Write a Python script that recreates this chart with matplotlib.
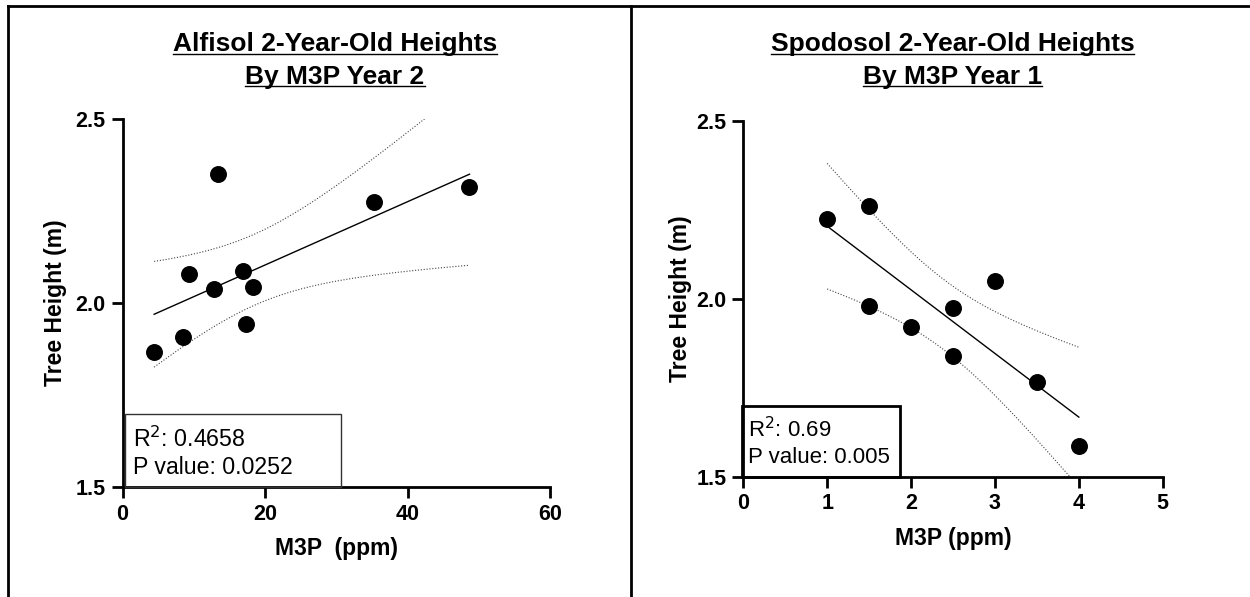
import numpy as np
import matplotlib

matplotlib.use("Agg")
import matplotlib.pyplot as plt
from matplotlib.lines import Line2D

plt.rcParams["font.family"] = ["Liberation Sans", "DejaVu Sans"]

# Alfisol, M3P year 2
alf_m3p = [13.4, 35.3, 48.7, 9.4, 16.9, 12.9, 18.3, 4.44, 8.46, 17.4]
alf_height = [2.350, 2.275, 2.314, 2.078, 2.088, 2.037, 2.044, 1.868, 1.908, 1.942]
alf_title = ["Alfisol 2-Year-Old Heights", "By M3P Year 2"]
alf_xlabel = "M3P  (ppm)"
alf_xticks = [0, 20, 40, 60]
alf_stats = ["0.4658", "0.0252"]

# Spodosol, M3P year 1
spo_m3p = [1.0, 1.5, 1.5, 2.0, 2.5, 2.5, 3.0, 3.5, 4.0]
spo_height = [2.223, 2.261, 1.980, 1.921, 1.975, 1.838, 2.049, 1.765, 1.587]
spo_title = ["Spodosol 2-Year-Old Heights", "By M3P Year 1"]
spo_xlabel = "M3P (ppm)"
spo_xticks = [0, 1, 2, 3, 4, 5]
spo_stats = ["0.69", "0.005"]

yticks = [1.5, 2.0, 2.5]
T95 = {8: 2.306, 7: 2.365}


def fit_band(x, y):
    x = np.asarray(x, float)
    y = np.asarray(y, float)
    n = len(x)
    b, a = np.polyfit(x, y, 1)
    resid = y - (a + b * x)
    s = np.sqrt((resid ** 2).sum() / (n - 2))
    sxx = ((x - x.mean()) ** 2).sum()
    xs = np.linspace(x.min(), x.max(), 200)
    yhat = a + b * xs
    half = T95[n - 2] * s * np.sqrt(1 / n + (xs - x.mean()) ** 2 / sxx)
    return xs, yhat, yhat - half, yhat + half


def panel(ax, x, y, xlabel, xticks, stats, box, ylpad):
    xs, yhat, lo, hi = fit_band(x, y)
    ax.plot(xs, yhat, color="black", lw=1.0)
    for band in (lo, hi):
        ax.plot(xs, band, color="#444444", lw=0.8, ls=(0, (1, 1.6)))
    ax.scatter(x, y, s=125, color="black", zorder=3, clip_on=False)

    ax.set_xlim(xticks[0], xticks[-1])
    ax.set_ylim(1.5, 2.5)
    ax.set_xticks(xticks)
    ax.set_yticks(yticks)
    ax.set_yticklabels([f"{v:.1f}" for v in yticks])
    for s in ("top", "right"):
        ax.spines[s].set_visible(False)
    for s in ("left", "bottom"):
        ax.spines[s].set_linewidth(2)
    ax.tick_params(width=2, length=8, labelsize=15.5, pad=4)
    for lab in ax.get_xticklabels() + ax.get_yticklabels():
        lab.set_fontweight("bold")
    ax.set_xlabel(xlabel, fontsize=16.5, fontweight="bold", labelpad=9)
    ax.set_ylabel("Tree Height (m)", fontsize=16.5, fontweight="bold", labelpad=ylpad)

    # stats box anchored to the lower-left corner of the axes
    x0, w, h, lw, ec, tx, fs, y1, y2 = box
    ax.add_patch(plt.Rectangle((x0, 0.0), w, h, transform=ax.transAxes,
                               fill=False, lw=lw, edgecolor=ec, zorder=4,
                               clip_on=False))
    ax.text(tx, y1, f"R$^{{2}}$: {stats[0]}", transform=ax.transAxes,
            fontsize=fs, va="baseline")
    ax.text(tx, y2, f"P value: {stats[1]}", transform=ax.transAxes,
            fontsize=fs, va="baseline")


fig = plt.figure(figsize=(12.5, 5.97), dpi=100)

ax1 = fig.add_axes([0.098, 0.1843, 0.342, 0.6164])
panel(ax1, alf_m3p, alf_height, alf_xlabel, alf_xticks, alf_stats,
      (0.005, 0.505, 0.1976, 1.0, "#333333", 0.024, 16.7, 0.1095, 0.035), 6)
ax2 = fig.add_axes([0.5946, 0.2015, 0.3356, 0.5963])
panel(ax2, spo_m3p, spo_height, spo_xlabel, spo_xticks, spo_stats,
      (-0.003, 0.377, 0.199, 2.0, "black", 0.012, 16.0, 0.1115, 0.0376), 3)

# underlined two-line titles
fig.canvas.draw()
renderer = fig.canvas.get_renderer()
baselines = [0.914, 0.8595]
for cx, title in ((0.268, alf_title), (0.762, spo_title)):
    for line, yb in zip(title, baselines):
        t = fig.text(cx, yb, line, ha="center", va="baseline", fontsize=19,
                     fontweight="bold")
        w = t.get_window_extent(renderer).width / fig.bbox.width
        yu = yb - 2.5 / fig.bbox.height
        fig.add_artist(Line2D([cx - w / 2, cx + w / 2], [yu, yu], color="black",
                              lw=1.0, transform=fig.transFigure))

# outer frame
frame = dict(color="black", lw=2, transform=fig.transFigure)
fig.add_artist(Line2D([0.0064, 1.0], [0.9905, 0.9905], **frame))
fig.add_artist(Line2D([0.0064, 0.0064], [0.0, 0.9905], **frame))
fig.add_artist(Line2D([0.5045, 0.5045], [0.0, 0.9905], **frame))

fig.savefig("out.png", dpi=100)
